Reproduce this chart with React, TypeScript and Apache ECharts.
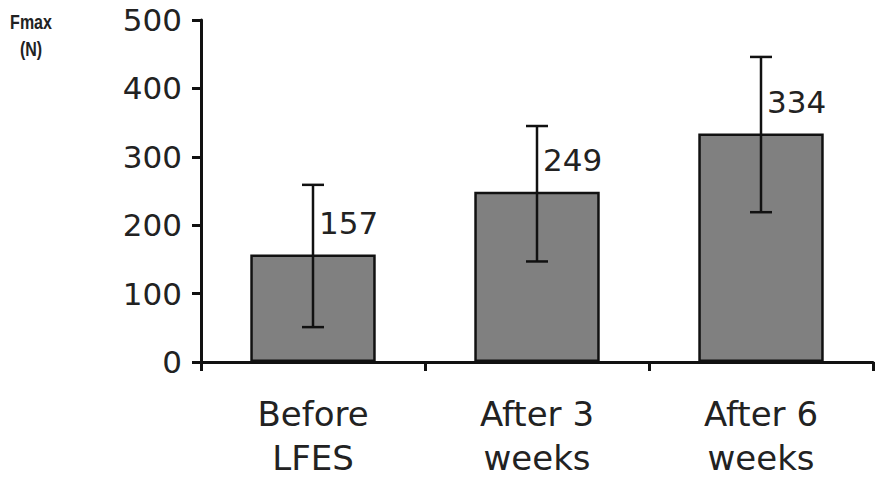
import React, { useEffect, useRef } from "react";
import * as echarts from "echarts";

const categories = ["Before\nLFES", "After 3\nweeks", "After 6\nweeks"];
const means = [157, 249, 334];
const errLow = [51, 147, 219];
const errHigh = [259, 345, 446];
const yTicks = { min: 0, max: 500, interval: 100 };

export default function App() {
  const ref = useRef<HTMLDivElement>(null);
  useEffect(() => {
    if (!ref.current) return;
    const chart = echarts.init(ref.current, null, { renderer: "svg" });
    const font = "DejaVu Sans";
    chart.setOption({
      animation: false,
      backgroundColor: "#ffffff",
      graphic: [
        {
          type: "text",
          x: 31,
          y: 8,
          scaleY: 1.3,
          style: {
            text: "Fmax\n(N)",
            fontFamily: "Liberation Sans",
            fontWeight: "bold",
            fontSize: 16,
            fill: "#222",
            lineHeight: 21,
            textAlign: "center",
          },
        },
      ],
      grid: { left: 201, top: 20, right: 2, bottom: 119, containLabel: false },
      xAxis: {
        type: "category",
        data: categories,
        boundaryGap: true,
        axisLine: { show: true, lineStyle: { color: "#111", width: 3 } },
        axisTick: { show: true, length: 9, lineStyle: { color: "#111", width: 3 } },
        axisLabel: {
          color: "#222",
          fontFamily: font,
          fontSize: 34,
          lineHeight: 44,
          margin: 30,
          interval: 0,
        },
      },
      yAxis: {
        type: "value",
        min: yTicks.min,
        max: yTicks.max,
        interval: yTicks.interval,
        axisLine: { show: true, lineStyle: { color: "#111", width: 3 } },
        axisTick: { show: true, length: 9, lineStyle: { color: "#111", width: 3 } },
        splitLine: { show: false },
        axisLabel: { color: "#222", fontFamily: font, fontSize: 31, margin: 19 },
      },
      series: [
        {
          type: "bar",
          data: means,
          barWidth: "56%",
          itemStyle: { color: "#808080", borderColor: "#111", borderWidth: 2.5 },
          z: 2,
        },
        {
          type: "custom",
          z: 3,
          data: means.map((m, i) => [i, m, errLow[i], errHigh[i]]),
          renderItem: (params: any, api: any) => {
            const i = api.value(0);
            const m = api.value(1);
            const lo = api.coord([i, api.value(2)]);
            const hi = api.coord([i, api.value(3)]);
            const mid = api.coord([i, m]);
            const x = lo[0];
            const cap = 11;
            const ls = { stroke: "#111", lineWidth: 2.5 };
            return {
              type: "group",
              children: [
                { type: "line", shape: { x1: x, y1: lo[1], x2: x, y2: hi[1] }, style: ls },
                { type: "line", shape: { x1: x - cap, y1: lo[1], x2: x + cap, y2: lo[1] }, style: ls },
                { type: "line", shape: { x1: x - cap, y1: hi[1], x2: x + cap, y2: hi[1] }, style: ls },
                {
                  type: "text",
                  x: x + 6,
                  y: mid[1] - 32,
                  style: {
                    text: String(m),
                    fill: "#222",
                    fontFamily: font,
                    fontSize: 31,
                    textAlign: "left",
                    textVerticalAlign: "middle",
                  },
                },
              ],
            };
          },
        },
      ],
    });
    return () => chart.dispose();
  }, []);
  return <div ref={ref} style={{ width: 875, height: 481, position: "absolute", left: 0, top: 0 }} />;
}
